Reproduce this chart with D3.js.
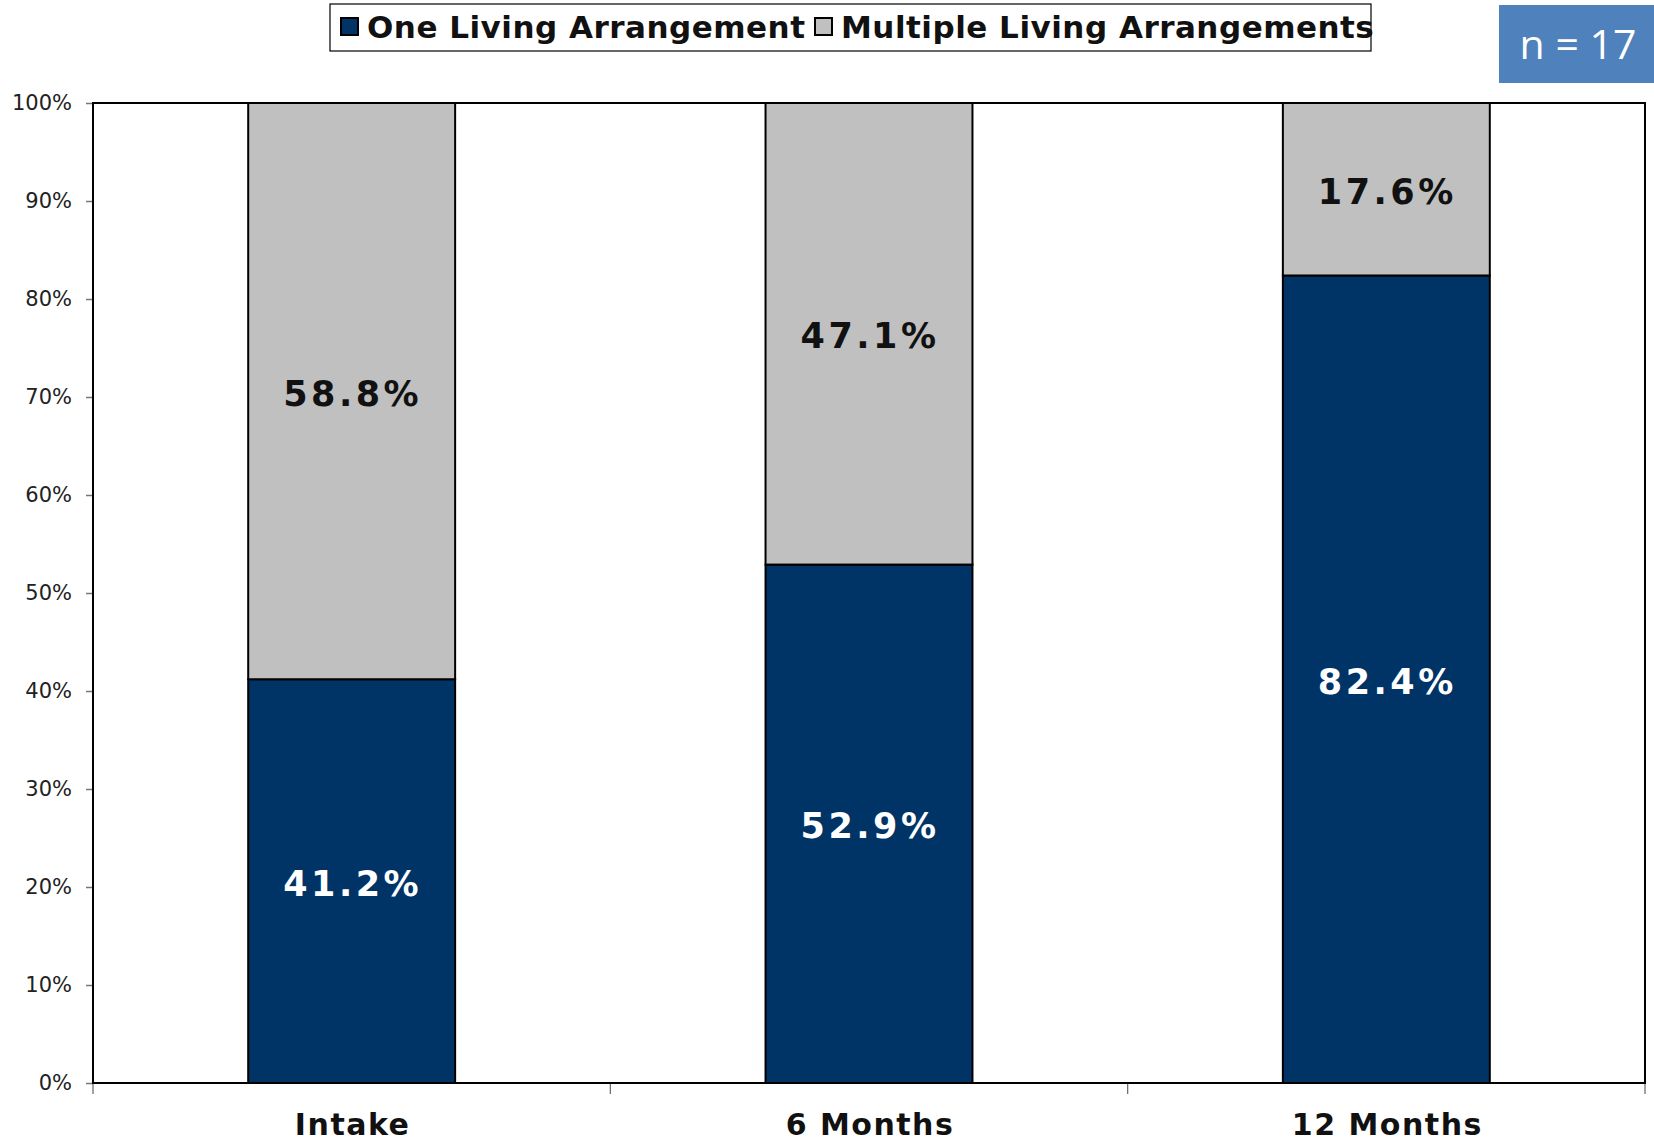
<!DOCTYPE html>
<html>
<head>
<meta charset="utf-8">
<script src="https://cdn.jsdelivr.net/npm/d3@7"></script>
<style>
  body { margin: 0; background: #fff; }
  svg { display: block; }
  .tick text { font-family: "DejaVu Sans", Verdana, sans-serif; font-size: 21px; fill: #222; }
</style>
</head>
<body>
<svg id="chart" width="1654" height="1142"></svg>
<script>
const categories = ["Intake", "6 Months", "12 Months"];
const oneLiving = [41.2, 52.9, 82.4];
const multipleLiving = [58.8, 47.1, 17.6];
const seriesNames = ["One Living Arrangement", "Multiple Living Arrangements"];
const seriesColors = ["#003366", "#c0c0c0"];
const labelColors = ["#ffffff", "#111111"];
const yTicks = [0, 10, 20, 30, 40, 50, 60, 70, 80, 90, 100];

const svg = d3.select("#chart");
const plotLeft = 93, plotRight = 1645, plotTop = 103, plotBottom = 1083;

const x = d3.scaleBand()
    .domain(categories)
    .range([plotLeft, plotRight])
    .paddingInner(0.6)
    .paddingOuter(0.3);

const xBoundary = d3.scaleBand()
    .domain(categories)
    .range([plotLeft, plotRight]);

const y = d3.scaleLinear().domain([0, 100]).range([plotBottom, plotTop]);

// y axis
const yAxis = svg.append("g")
    .attr("transform", `translate(${plotLeft},0)`)
    .call(d3.axisLeft(y).tickValues(yTicks).tickSize(7).tickPadding(14).tickFormat((d) => d + "%"));
yAxis.select(".domain").remove();
yAxis.selectAll(".tick line").attr("stroke", "#777").attr("stroke-width", 1.5);

// x tick marks at category boundaries
const xb = categories.map((c) => xBoundary(c)).concat([plotRight]);
svg.append("g")
    .selectAll("line")
    .data(xb)
    .enter()
    .append("line")
    .attr("x1", (d) => d).attr("x2", (d) => d)
    .attr("y1", plotBottom).attr("y2", plotBottom + 11)
    .attr("stroke", "#666").attr("stroke-width", 1.2);

// stacked data
const rows = categories.map((c, i) => ({ category: c, one: oneLiving[i], multiple: multipleLiving[i] }));
const stack = d3.stack().keys(["one", "multiple"]);
const layers = stack(rows);

const layer = svg.append("g")
    .selectAll("g")
    .data(layers)
    .enter()
    .append("g")
    .attr("fill", (d, i) => seriesColors[i]);

layer.selectAll("rect")
    .data((d) => d)
    .enter()
    .append("rect")
    .attr("x", (d) => x(d.data.category))
    .attr("width", x.bandwidth())
    .attr("y", (d) => y(d[1]))
    .attr("height", (d) => y(d[0]) - y(d[1]))
    .attr("stroke", "#000")
    .attr("stroke-width", 2);

// value labels
layers.forEach((l, i) => {
    svg.append("g")
        .selectAll("text")
        .data(l)
        .enter()
        .append("text")
        .attr("x", (d) => x(d.data.category) + x.bandwidth() / 2 + 1)
        .attr("y", (d) => y((d[0] + d[1]) / 2) + 2)
        .attr("dy", "0.36em")
        .attr("text-anchor", "middle")
        .attr("fill", labelColors[i])
        .style("font-family", "'DejaVu Sans', Verdana, sans-serif")
        .style("font-weight", "bold")
        .style("font-size", "35px")
        .style("letter-spacing", "3.5px")
        .text((d) => (d[1] - d[0]).toFixed(1) + "%");
});

// plot border
svg.append("rect")
    .attr("x", plotLeft).attr("y", plotTop)
    .attr("width", plotRight - plotLeft).attr("height", plotBottom - plotTop)
    .attr("fill", "none").attr("stroke", "#000").attr("stroke-width", 2);

// category labels
svg.append("g")
    .selectAll("text")
    .data(categories)
    .enter()
    .append("text")
    .attr("x", (d) => x(d) + x.bandwidth() / 2 + 1)
    .attr("y", 1135)
    .attr("text-anchor", "middle")
    .style("font-family", "'DejaVu Sans', Verdana, sans-serif")
    .style("font-weight", "bold")
    .style("font-size", "30px")
    .style("letter-spacing", "1.5px")
    .attr("fill", "#111")
    .text((d) => d);

// legend
svg.append("rect")
    .attr("x", 330).attr("y", 4).attr("width", 1041).attr("height", 47)
    .attr("fill", "#fff").attr("stroke", "#000").attr("stroke-width", 1.2);

const legendX = [341, 815];
seriesNames.forEach((name, i) => {
    svg.append("rect")
        .attr("x", legendX[i]).attr("y", 18)
        .attr("width", 17).attr("height", 17)
        .attr("fill", seriesColors[i]).attr("stroke", "#000").attr("stroke-width", 2);
    svg.append("text")
        .attr("x", legendX[i] + 26).attr("y", 38)
        .style("font-family", "'DejaVu Sans', Verdana, sans-serif")
        .style("font-weight", "bold")
        .style("font-size", "31px")
        .style("letter-spacing", "0.5px")
        .attr("fill", "#111")
        .text(name);
});

// n box
svg.append("rect")
    .attr("x", 1499).attr("y", 5).attr("width", 155).attr("height", 78)
    .attr("fill", "#4f81bd");
svg.append("text")
    .attr("x", 1578).attr("y", 45)
    .attr("dy", "0.35em")
    .attr("text-anchor", "middle")
    .style("font-family", "'Open Sans', Lato, sans-serif")
    .style("font-size", "41px")
    .attr("fill", "#fff")
    .text("n = 17");
</script>
</body>
</html>
